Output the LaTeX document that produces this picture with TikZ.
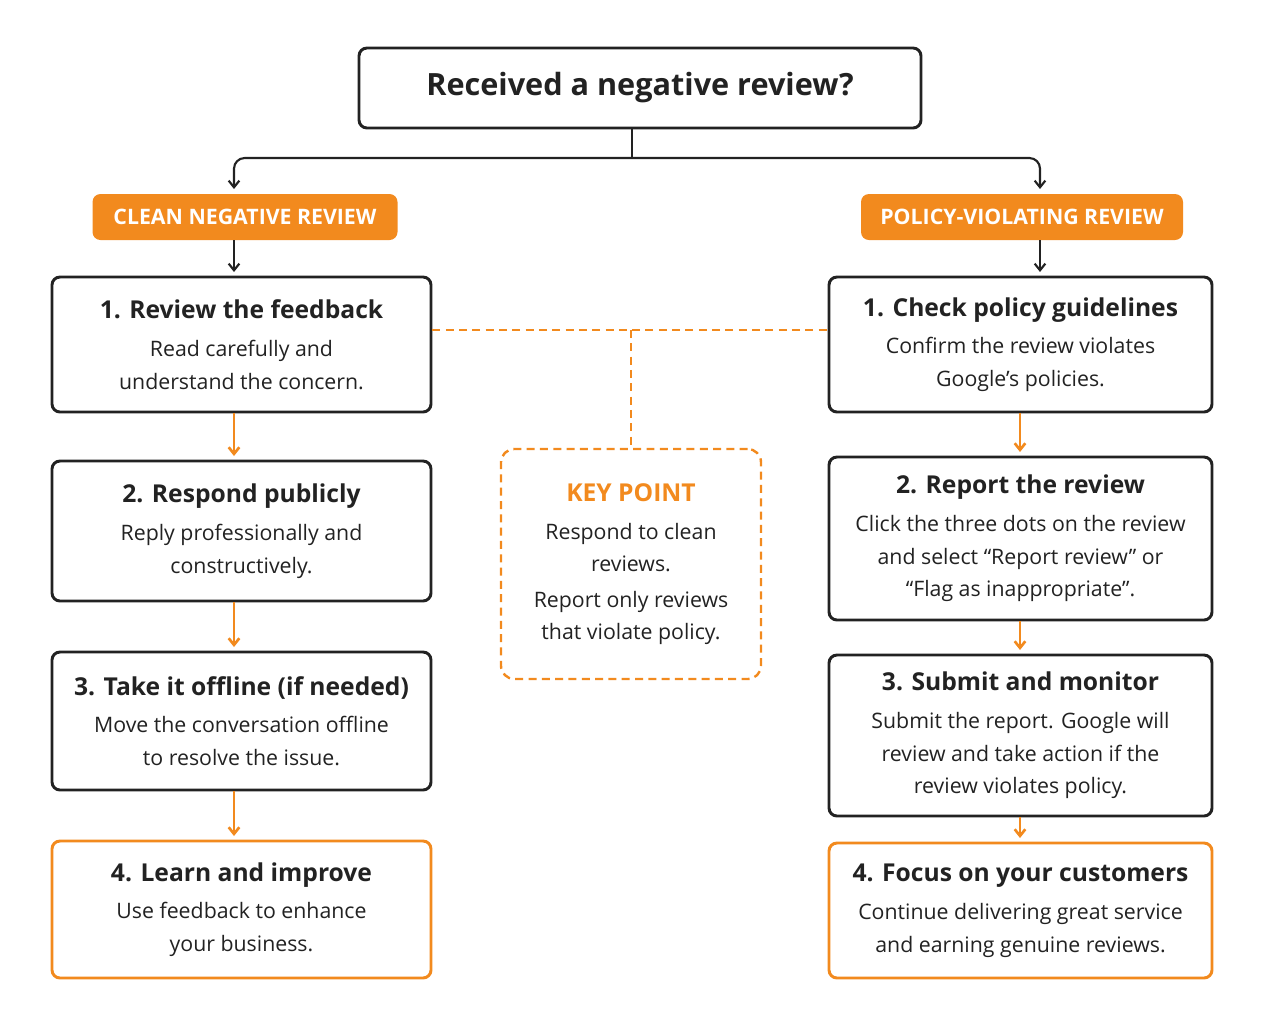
\documentclass[tikz,border=0pt]{standalone}
\usepackage{fontspec}
\setmainfont{Open Sans}
\usetikzlibrary{arrows.meta}
\definecolor{org}{HTML}{F28A1E}
\definecolor{ink}{HTML}{222222}
\tikzset{
  px/.style={x=0.0264cm,y=-0.0264cm},
  box/.style={draw=ink,line width=2.2pt,rounded corners=6pt,fill=white,align=center,inner sep=0pt,text=ink,font=\fontsize{16}{24.5}\selectfont},
  obox/.style={box,draw=org},
  tag/.style={fill=org,rounded corners=6pt,text=white,font=\bfseries\fontsize{16}{18}\selectfont,inner sep=0pt},
  barr/.style={-{Straight Barb[length=5pt,width=8pt]},line width=1.6pt,draw=ink},
  oarr/.style={-{Straight Barb[length=5pt,width=8pt]},line width=2pt,draw=org},
  dsh/.style={dashed,dash pattern=on 6pt off 4pt,line width=1.8pt,draw=org},
}
\newcommand{\ttl}[1]{{\bfseries\fontsize{18.5}{24}\selectfont #1}\\[4pt]}
\begin{document}
\begin{tikzpicture}[px]
\useasboundingbox (0,0) rectangle (1265,1024);
\node[box,minimum width=562*0.0264cm,minimum height=80*0.0264cm,font=\bfseries\fontsize{23}{27}\selectfont] (top) at (640,88) {Received a negative review?};
\node[tag,minimum width=305*0.0264cm,minimum height=46*0.0264cm] (tl) at (245,217) {CLEAN NEGATIVE REVIEW};
\node[tag,minimum width=322*0.0264cm,minimum height=46*0.0264cm] (tr) at (1022,217) {POLICY-VIOLATING REVIEW};
\coordinate (j) at (632,158);
\draw[line width=2.2pt,ink] (top.south -| j) -- (j);
\draw[barr,rounded corners=8pt] (j) -- (234,158) -- (234,189);
\draw[barr,rounded corners=8pt] (j) -- (1040,158) -- (1040,189);
% left column
\def\lw{379*0.0264cm}
\node[box,minimum width=\lw,minimum height=135*0.0264cm] (l1) at (241.5,344.5) {\ttl{1. Review the feedback}Read carefully and\\understand the concern.};
\node[box,minimum width=\lw,minimum height=140*0.0264cm] (l2) at (241.5,531) {\ttl{2. Respond publicly}Reply professionally and\\constructively.};
\node[box,minimum width=\lw,minimum height=138*0.0264cm] (l3) at (241.5,721) {\ttl{3. Take it offline (if needed)}Move the conversation offline\\to resolve the issue.};
\node[obox,minimum width=\lw,minimum height=137*0.0264cm] (l4) at (241.5,909.5) {\ttl{4. Learn and improve}Use feedback to enhance\\your business.};
% right column
\def\rw{383*0.0264cm}
\node[box,minimum width=\rw,minimum height=135*0.0264cm] (r1) at (1020.5,344.5) {\ttl{1. Check policy guidelines}Confirm the review violates\\Google’s policies.};
\node[box,minimum width=\rw,minimum height=163*0.0264cm] (r2) at (1020.5,538.5) {\ttl{2. Report the review}Click the three dots on the review\\and select “Report review” or\\“Flag as inappropriate”.};
\node[box,minimum width=\rw,minimum height=161*0.0264cm] (r3) at (1020.5,735.5) {\ttl{3. Submit and monitor}Submit the report. Google will\\review and take action if the\\review violates policy.};
\node[obox,minimum width=\rw,minimum height=135*0.0264cm] (r4) at (1020.5,910.5) {\ttl{4. Focus on your customers}Continue delivering great service\\and earning genuine reviews.};
% key point
\node[dsh,rounded corners=10pt,minimum width=260*0.0264cm,minimum height=230*0.0264cm,align=center,inner sep=0pt,text=ink,font=\fontsize{16}{24.5}\selectfont] (kp) at (631,564) {{\color{org}\bfseries\fontsize{18.5}{24}\selectfont KEY POINT}\\[4pt]Respond to clean\\reviews.\\[2pt]Report only reviews\\that violate policy.};
% arrows
\draw[barr] (tl.south -| 234,0) -- (234,272);
\draw[barr] (tr.south -| 1040,0) -- (1040,272);
\draw[oarr] (l1.south -| 234,0) -- (234,456);
\draw[oarr] (l2.south -| 234,0) -- (234,647);
\draw[oarr] (l3.south -| 234,0) -- (234,836);
\draw[oarr] (r1.south -| 1020,0) -- (1020,452);
\draw[oarr] (r2.south -| 1020,0) -- (1020,650);
\draw[oarr] (r3.south -| 1020,0) -- (1020,838);
% dashed links
\coordinate (m) at (631,330);
\draw[dsh] (l1.east |- m) -- (r1.west |- m);
\draw[dsh] (m) -- (kp.north);
\end{tikzpicture}
\end{document}
